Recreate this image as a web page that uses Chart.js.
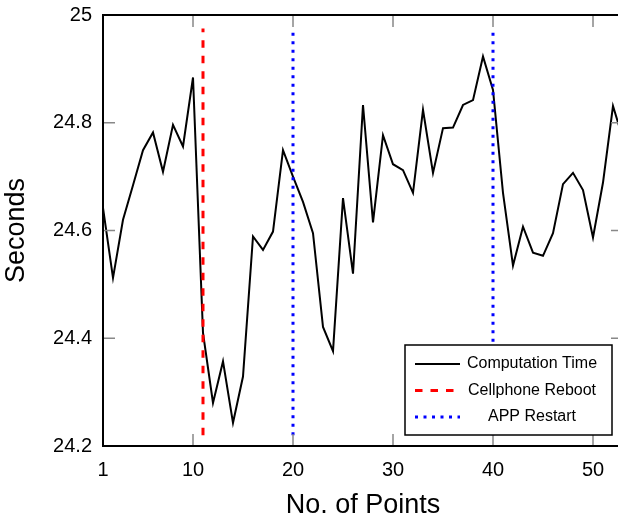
<!DOCTYPE html>
<html>
<head>
<meta charset="utf-8">
<script src="https://cdn.jsdelivr.net/npm/chart.js@4"></script>
<style>
  html, body { margin: 0; padding: 0; overflow: hidden; background: #fff; }
  #wrap { width: 640px; height: 517px; }
</style>
</head>
<body>
<div id="wrap"><canvas id="chart" width="640" height="517"></canvas></div>
<script>
// values
var pointNo = [];
for (var i = 1; i <= 53; i++) pointNo.push(i);
var compTime = [24.642, 24.512, 24.62, 24.684, 24.749, 24.782, 24.709, 24.796, 24.756, 24.884,
                24.41, 24.28, 24.357, 24.243, 24.329, 24.589, 24.564, 24.598, 24.749, 24.70,
                24.653, 24.595, 24.421, 24.376, 24.66, 24.52, 24.833, 24.615, 24.777, 24.723,
                24.712, 24.67, 24.824, 24.707, 24.79, 24.791, 24.833, 24.842, 24.923, 24.861,
                24.67, 24.535, 24.607, 24.559, 24.553, 24.595, 24.686, 24.707, 24.675, 24.587,
                24.689, 24.831, 24.77];
var rebootAt = [11];
var restartAt = [20, 40];
var markerRange = [24.22, 24.975];
var xTicks = [1, 10, 20, 30, 40, 50];
var yTicks = [24.2, 24.4, 24.6, 24.8, 25];
var legendLabels = ['Computation Time', 'Cellphone Reboot', 'APP Restart'];

var font = 'Liberation Sans, Arial, Helvetica, sans-serif';

function vline(xs) {
    var pts = [];
    xs.forEach(function (x) {
        pts.push({ x: x, y: markerRange[0] });
        pts.push({ x: x, y: markerRange[1] });
        pts.push({ x: x, y: null });
    });
    return pts;
}

// inward ticks + frame, drawn like matlab axes
var frame = {
    id: 'frame',
    afterDatasetsDraw: function (chart) {
        var c = chart.ctx, a = chart.chartArea;
        var xs = chart.scales.x, ys = chart.scales.y;
        c.save();
        c.strokeStyle = '#888';
        c.lineWidth = 1.5;
        c.beginPath();
        xTicks.forEach(function (t) {
            var px = xs.getPixelForValue(t);
            c.moveTo(px, a.bottom); c.lineTo(px, a.bottom - 12);
            c.moveTo(px, a.top); c.lineTo(px, a.top + 12);
        });
        yTicks.forEach(function (t) {
            var py = ys.getPixelForValue(t);
            c.moveTo(a.left, py); c.lineTo(a.left + 12, py);
            c.moveTo(a.right, py); c.lineTo(a.right - 12, py);
        });
        c.stroke();
        c.strokeStyle = '#000';
        c.lineWidth = 2;
        c.strokeRect(a.left, a.top, a.right - a.left, a.bottom - a.top);
        c.restore();
    },
    afterDraw: function (chart) {
        // legend box
        var c = chart.ctx;
        var bx = 405, by = 345, bw = 207, bh = 90;
        c.save();
        c.fillStyle = '#fff';
        c.fillRect(bx, by, bw, bh);
        c.strokeStyle = '#000';
        c.lineWidth = 1.5;
        c.strokeRect(bx, by, bw, bh);
        var rows = [364, 390.5, 417];
        c.font = '16px ' + font;
        c.textAlign = 'center';
        c.textBaseline = 'middle';
        chart.data.datasets.forEach(function (ds, i) {
            c.strokeStyle = ds.borderColor;
            c.lineWidth = ds.borderWidth;
            c.setLineDash(ds.borderDash || []);
            c.beginPath();
            c.moveTo(415, rows[i]);
            c.lineTo(460, rows[i]);
            c.stroke();
            c.setLineDash([]);
            c.fillStyle = '#000';
            c.fillText(legendLabels[i], 532, rows[i]);
        });
        c.restore();
    }
};

new Chart(document.getElementById('chart'), {
    type: 'line',
    data: {
        datasets: [{
            label: legendLabels[0],
            data: pointNo.map(function (x, i) { return { x: x, y: compTime[i] }; }),
            borderColor: '#000',
            borderWidth: 2,
            pointRadius: 0,
            tension: 0,
            order: 3
        }, {
            label: legendLabels[1],
            data: vline(rebootAt),
            borderColor: '#ff0000',
            borderWidth: 3,
            borderDash: [7.5, 8],
            pointRadius: 0,
            spanGaps: false,
            order: 1
        }, {
            label: legendLabels[2],
            data: vline(restartAt),
            borderColor: '#0000ff',
            borderWidth: 3,
            borderDash: [3, 5.5],
            pointRadius: 0,
            spanGaps: false,
            order: 2
        }]
    },
    options: {
        responsive: false,
        animation: false,
        layout: { padding: { top: 15, right: 17, left: 0, bottom: 0 } },
        plugins: {
            legend: { display: false },
            tooltip: { enabled: false }
        },
        scales: {
            x: {
                type: 'linear',
                min: 1,
                max: 53,
                afterBuildTicks: function (s) { s.ticks = xTicks.map(function (v) { return { value: v }; }); },
                afterFit: function (s) { s.height = 71; s.paddingLeft = 0; s.paddingRight = 0; },
                grid: { display: false, drawTicks: false },
                border: { display: false },
                ticks: { color: '#000', font: { family: font, size: 20 }, padding: 12, maxRotation: 0 },
                title: { display: true, text: 'No. of Points', color: '#000', font: { family: font, size: 27 }, padding: { top: 11, bottom: -5 } }
            },
            y: {
                min: 24.2,
                max: 25,
                afterBuildTicks: function (s) { s.ticks = yTicks.map(function (v) { return { value: v }; }); },
                afterFit: function (s) { s.width = 103; s.paddingTop = 0; s.paddingBottom = 0; },
                grid: { display: false, drawTicks: false },
                border: { display: false },
                ticks: {
                    color: '#000', font: { family: font, size: 20 }, padding: 11,
                    callback: function (v) { return String(Math.round(v * 10) / 10); }
                },
                title: { display: true, text: 'Seconds', color: '#000', font: { family: font, size: 27 }, padding: { top: 0, bottom: 0 } }
            }
        }
    },
    plugins: [frame]
});
</script>
</body>
</html>
